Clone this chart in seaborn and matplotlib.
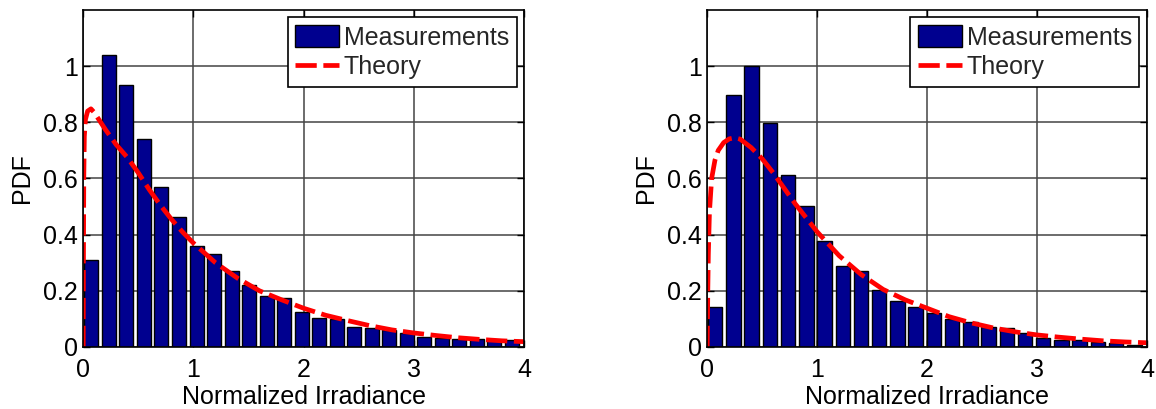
import matplotlib
matplotlib.use("Agg")
import matplotlib.pyplot as plt
import seaborn as sns
from matplotlib.patches import Patch
from matplotlib.lines import Line2D

# ---------------- data ----------------
left_bin_centers = [0.074, 0.233, 0.392, 0.551, 0.710, 0.869, 1.028, 1.187, 1.346, 1.505,
                    1.664, 1.823, 1.982, 2.141, 2.300, 2.459, 2.618, 2.777, 2.936, 3.095,
                    3.254, 3.413, 3.572, 3.731, 3.890]
left_measured = [0.308, 1.038, 0.934, 0.739, 0.568, 0.464, 0.359, 0.331, 0.269, 0.222,
                 0.181, 0.174, 0.123, 0.102, 0.098, 0.072, 0.066, 0.060, 0.049, 0.034,
                 0.032, 0.027, 0.028, 0.025, 0.024]
left_theory_x = [0, 0.002, 0.005, 0.01, 0.02, 0.04, 0.07, 0.1, 0.15, 0.2, 0.3, 0.4, 0.5,
                 0.6, 0.7, 0.8, 0.9, 1.0, 1.2, 1.4, 1.6, 1.8, 2.0, 2.2, 2.4, 2.6, 2.8,
                 3.0, 3.2, 3.4, 3.6, 3.8, 4.0]
left_theory_y = [0, 0.30, 0.60, 0.75, 0.81, 0.84, 0.848, 0.835, 0.805, 0.775, 0.72, 0.675,
                 0.62, 0.56, 0.505, 0.455, 0.41, 0.37, 0.30, 0.245, 0.20, 0.168, 0.138,
                 0.113, 0.094, 0.076, 0.061, 0.050, 0.041, 0.033, 0.027, 0.022, 0.019]

right_bin_centers = [0.072, 0.238, 0.404, 0.569, 0.735, 0.901, 1.067, 1.233, 1.398, 1.564,
                     1.730, 1.896, 2.062, 2.227, 2.393, 2.559, 2.725, 2.891, 3.056, 3.222,
                     3.388, 3.554, 3.720, 3.885]
right_measured = [0.142, 0.899, 1.000, 0.797, 0.611, 0.502, 0.378, 0.288, 0.269, 0.203,
                  0.165, 0.144, 0.120, 0.100, 0.090, 0.072, 0.066, 0.049, 0.031, 0.025,
                  0.024, 0.019, 0.015, 0.007]
right_theory_x = [0, 0.005, 0.01, 0.02, 0.04, 0.07, 0.1, 0.15, 0.2, 0.25, 0.3, 0.4, 0.5,
                  0.6, 0.7, 0.8, 0.9, 1.0, 1.2, 1.4, 1.6, 1.8, 2.0, 2.2, 2.4, 2.6, 2.8,
                  3.0, 3.2, 3.4, 3.6, 3.8, 4.0]
right_theory_y = [0, 0.20, 0.33, 0.48, 0.60, 0.665, 0.70, 0.728, 0.741, 0.745, 0.74, 0.71,
                  0.67, 0.62, 0.565, 0.51, 0.46, 0.41, 0.325, 0.258, 0.205, 0.168, 0.138,
                  0.108, 0.086, 0.068, 0.054, 0.043, 0.035, 0.028, 0.022, 0.018, 0.015]

x_ticks = [0, 1, 2, 3, 4]
x_tick_labels = ["0", "1", "2", "3", "4"]
y_ticks = [0, 0.2, 0.4, 0.6, 0.8, 1.0]
y_tick_labels = ["0", "0.2", "0.4", "0.6", "0.8", "1"]
legend_labels = ["Measurements", "Theory"]
x_label = "Normalized Irradiance"
y_label = "PDF"

# ---------------- style ----------------
sns.set_theme(style="white")
plt.rcParams["font.family"] = ["Liberation Sans", "DejaVu Sans"]
FS = 18
BAR_COLOR = "#00008F"
LINE_COLOR = "#FF0000"
DASH = (0, (4.5, 1.4))

fig = plt.figure(figsize=(11.56, 4.09), dpi=100)
ax1 = fig.add_axes([0.072, 0.1516, 0.3813, 0.824])
ax2 = fig.add_axes([0.6118, 0.1516, 0.3804, 0.824])

panels = [
    (ax1, left_bin_centers, left_measured, left_theory_x, left_theory_y),
    (ax2, right_bin_centers, right_measured, right_theory_x, right_theory_y),
]

for ax, bx, by, tx, ty in panels:
    ax.set_axisbelow(True)
    ax.grid(True, color="#444444", linewidth=1.1, linestyle="-")
    sns.barplot(x=bx, y=by, native_scale=True, width=0.8, color=BAR_COLOR,
                saturation=1, edgecolor="black", linewidth=1.0, ax=ax, zorder=2)
    sns.lineplot(x=tx, y=ty, color=LINE_COLOR, linewidth=3.4, ax=ax,
                 dashes=False, zorder=3, sort=False)
    for ln in ax.lines:
        ln.set_linestyle(DASH)
        ln.set_dash_capstyle("butt")
    ax.set_xlim(0, 4)
    ax.set_ylim(0, 1.2)
    ax.set_xticks(x_ticks)
    ax.set_xticklabels(x_tick_labels)
    ax.set_yticks(y_ticks)
    ax.set_yticklabels(y_tick_labels)
    ax.tick_params(axis="both", direction="in", length=5, width=1, color="black",
                   labelsize=FS, top=True, right=True, bottom=True, left=True,
                   labelcolor="black")
    ax.tick_params(axis="x", pad=8)
    ax.tick_params(axis="y", pad=4)
    ax.set_xlabel(x_label, fontsize=FS, labelpad=2, color="black")
    ax.set_ylabel(y_label, fontsize=FS, labelpad=6, color="black")
    for sp in ax.spines.values():
        sp.set_visible(True)
        sp.set_color("black")
        sp.set_linewidth(1.2)
        sp.set_zorder(5)

    handles = [
        Patch(facecolor=BAR_COLOR, edgecolor="black", linewidth=1.0),
        Line2D([0], [0], color=LINE_COLOR, linewidth=3.4, linestyle=DASH),
    ]
    leg = ax.legend(handles, legend_labels, loc="upper right", fontsize=FS,
                    frameon=True, fancybox=False, framealpha=1, edgecolor="black",
                    borderaxespad=0.3, borderpad=0.3, labelspacing=0.2,
                    handlelength=1.75, handleheight=1.0, handletextpad=0.2)
    leg.get_frame().set_linewidth(1.2)
    leg.set_zorder(10)

fig.savefig("out.png", dpi=100, facecolor="white")
